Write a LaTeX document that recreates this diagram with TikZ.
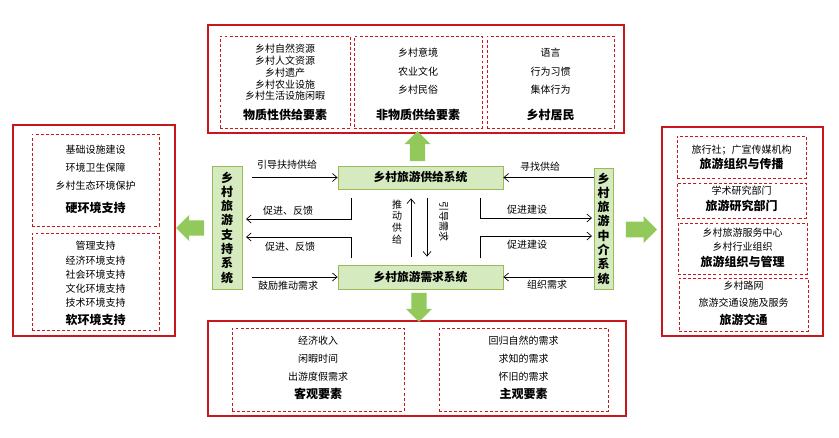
\documentclass[tikz,border=0pt]{standalone}
\usepackage{fontspec}
\setmainfont{Noto Sans CJK SC}
\usepackage{xcolor}
\usepackage{tikz}
\usetikzlibrary{shapes, shapes.arrows, arrows.meta, positioning, fit, calc}

\definecolor{framered}{HTML}{C8161D}
\definecolor{sysfill}{HTML}{D5EABE}
\definecolor{sysline}{HTML}{9BBB59}
\definecolor{arrowgreen}{HTML}{92C95A}

\begin{document}
\begin{tikzpicture}[
        x=0.75pt, y=-0.75pt,
        redbox/.style={draw=framered, line width=1.5pt, inner sep=0pt},
        dashbox/.style={draw=framered, dash pattern=on 2.2pt off 1.6pt, line width=0.5pt, inner sep=0pt},
        sysbox/.style={draw=sysline, fill=sysfill, line width=0.6pt, font=\bfseries\fontsize{8.8pt}{10pt}\selectfont, inner sep=0pt},
        vsys/.style={sysbox, align=center, font=\bfseries\fontsize{9pt}{10.7pt}\selectfont},
        items/.style={align=center, inner sep=0pt, font=\fontsize{7.5pt}{#1}\selectfont},
        items/.default=8.8pt,
        title/.style={inner sep=0pt, font=\bfseries\fontsize{9pt}{10pt}\selectfont},
        label/.style={inner sep=0pt, font=\fontsize{7.5pt}{9pt}\selectfont},
        flow/.style={-{Straight Barb[length=3.5pt, width=6pt]}, line width=0.5pt},
        bigarrow/.style={single arrow, draw=none, fill=arrowgreen, inner sep=5.6pt, single arrow head extend=3.9pt, single arrow tip angle=90}
    ]
    \useasboundingbox (0,0) rectangle (839,437);

    % Top frame: supply factors
    \node[redbox, fit={(208,25) (624,133)}] (topframe) {};
    \node[dashbox, fit={(220,36) (350,128)}] (material) {};
    \node[dashbox, fit={(354,36) (482,128)}] (immaterial) {};
    \node[dashbox, fit={(487,36) (614,128)}] (residents) {};
    \node[items] at (285,72.5) {乡村自然资源\\乡村人文资源\\乡村遗产\\乡村农业设施\\乡村生活设施闲暇};
    \node[title] at (285,115) {物质性供给要素};
    \node[items=13.9pt] at (418,71.5) {乡村意境\\农业文化\\乡村民俗};
    \node[title] at (418,115) {非物质供给要素};
    \node[items=13.9pt] at (550.5,71.5) {语言\\行为习惯\\集体行为};
    \node[title] at (550.5,115) {乡村居民};

    % Left frame: environment support
    \node[redbox, fit={(13,125) (175,336)}] (leftframe) {};
    \node[dashbox, fit={(32,134) (159,226)}] (hardenv) {};
    \node[dashbox, fit={(32,233) (159,330)}] (softenv) {};
    \node[items=13.5pt] at (95.5,168) {基础设施建设\\环境卫生保障\\乡村生态环境保护};
    \node[title] at (95.5,208) {硬环境支持};
    \node[items=10.7pt] at (95.5,274.5) {管理支持\\经济环境支持\\社会环境支持\\文化环境支持\\技术环境支持};
    \node[title] at (95.5,320) {软环境支持};

    % Right frame: intermediaries
    \node[redbox, fit={(662,127) (823,336)}] (rightframe) {};
    \node[dashbox, fit={(677,136) (806,178)}] (travelorg) {};
    \node[dashbox, fit={(677,183) (806,218)}] (research) {};
    \node[dashbox, fit={(678,223) (807,274)}] (management) {};
    \node[dashbox, fit={(679,278) (808,331)}] (traffic) {};
    \node[items] at (741.5,150) {旅行社；广宣传媒机构};
    \node[title] at (741.5,164) {旅游组织与传播};
    \node[items] at (741.5,191) {学术研究部门};
    \node[title] at (741.5,206) {旅游研究部门};
    \node[items=10.5pt] at (742.5,240) {乡村旅游服务中心\\乡村行业组织};
    \node[title] at (742.5,262) {旅游组织与管理};
    \node[items=12.75pt] at (743.5,294.5) {乡村路网\\旅游交通设施及服务};
    \node[title] at (743.5,320) {旅游交通};

    % Bottom frame: demand factors
    \node[redbox, fit={(208,321) (626,416)}] (bottomframe) {};
    \node[dashbox, fit={(232,328) (404,411)}] (objective) {};
    \node[dashbox, fit={(439,328) (608,411)}] (subjective) {};
    \node[items=13.5pt] at (318,359) {经济收入\\闲暇时间\\出游度假需求};
    \node[title] at (318,394) {客观要素};
    \node[items=13.5pt] at (523.5,359) {回归自然的需求\\求知的需求\\怀旧的需求};
    \node[title] at (523.5,394) {主观要素};

    % Systems
    \node[sysbox, minimum width=123.75pt, minimum height=17.25pt] (supply) at (420.5,177.5) {乡村旅游供给系统};
    \node[sysbox, minimum width=123.75pt, minimum height=18pt] (demand) at (420.5,277) {乡村旅游需求系统};
    \node[vsys, minimum width=22.5pt, minimum height=92.25pt] (supportsys) at (227,227.5) {乡\\村\\旅\\游\\支\\持\\系\\统};
    \node[vsys, minimum width=14.25pt, minimum height=90.75pt] (mediasys) at (603.5,228.5) {乡\\村\\旅\\游\\中\\介\\系\\统};

    % Big arrows to the frames
    \node[bigarrow, minimum height=22.5pt, minimum width=18.75pt, shape border rotate=90] (toTop) at (417.5,150) {};
    \node[bigarrow, minimum height=21.75pt, minimum width=18.75pt, shape border rotate=270] (toBottom) at (419,303.5) {};
    \node[bigarrow, minimum height=21pt, minimum width=15pt, shape border rotate=180] (toLeft) at (194,228) {};
    \node[bigarrow, minimum height=23.25pt, minimum width=20pt] (toRight) at (637.5,229.5) {};

    % Free ends of the bent arrows
    \coordinate (fbA) at (351,198);
    \coordinate (fbAend) at (246,219);
    \coordinate (fbB) at (351,258);
    \coordinate (fbBend) at (246,237);
    \coordinate (bdA) at (480,198);
    \coordinate (bdAend) at (592,218);
    \coordinate (bdB) at (480,258);
    \coordinate (bdBend) at (592,236);

    % Arrows - support system
    \draw[flow] ([xshift=7.5pt]supportsys.east |- supply.west) -- (supply.west);
    \draw[flow] ([xshift=7.5pt]supportsys.east |- demand.west) -- (demand.west);
    \draw[flow] (fbA) |- (fbAend);
    \draw[flow] (fbB) |- (fbBend);
    \node[label] at (287,165) {引导扶持供给};
    \node[label] at (288,211) {促进、反馈};
    \node[label] at (290,247) {促进、反馈};
    \node[label] at (288,286) {鼓励推动需求};

    % Arrows - between supply and demand
    \draw[flow] ([shift={(-9.5,-8)}]demand.north) -- ([shift={(-9.5,9)}]supply.south);
    \draw[flow] ([shift={(6.5,9)}]supply.south) -- ([shift={(6.5,-8)}]demand.north);
    \node[label, align=center, font=\fontsize{7.5pt}{8.8pt}\selectfont] at (397,222) {推\\动\\供\\给};
    \node[label, rotate=-90] at (444,221) {引导需求};

    % Arrows - intermediary system
    \draw[flow] (mediasys.west |- supply.east) -- (supply.east);
    \draw[flow] (mediasys.west |- demand.east) -- (demand.east);
    \draw[flow] (bdA) |- (bdAend);
    \draw[flow] (bdB) |- (bdBend);
    \node[label] at (540,167) {寻找供给};
    \node[label] at (527,210) {促进建设};
    \node[label] at (527,245) {促进建设};
    \node[label] at (547,285) {组织需求};

\end{tikzpicture}
\end{document}
